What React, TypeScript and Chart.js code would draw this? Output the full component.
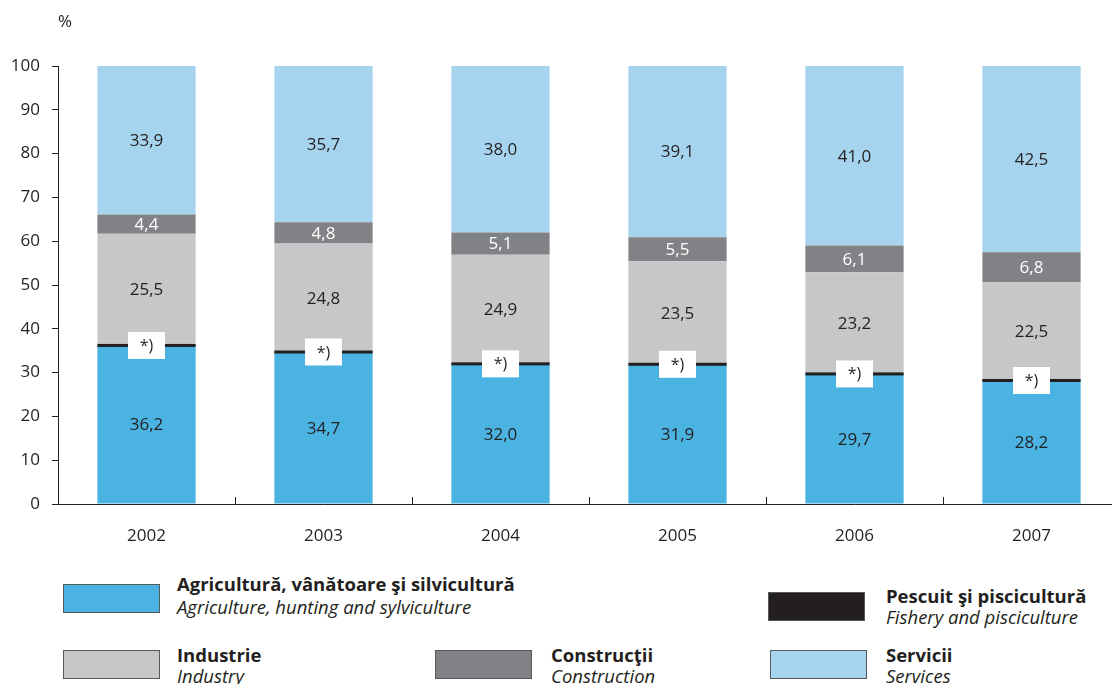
import React, { useEffect, useRef } from "react";
import { Chart, registerables } from "chart.js";

Chart.register(...registerables);

const years = ["2002", "2003", "2004", "2005", "2006", "2007"];
const agriculture = [36.2, 34.7, 32.0, 31.9, 29.7, 28.2];
const industry = [25.5, 24.8, 24.9, 23.5, 23.2, 22.5];
const construction = [4.4, 4.8, 5.1, 5.5, 6.1, 6.8];
const services = [33.9, 35.7, 38.0, 39.1, 41.0, 42.5];
const yTicks = [0, 10, 20, 30, 40, 50, 60, 70, 80, 90, 100];
const fisheryNote = "*)";

const C_AGRI = "#4ab3e2";
const C_IND = "#c6c7c9";
const C_CONS = "#808285";
const C_SERV = "#a6d4ee";
const C_DARK = "#231f20";
const FONT = "'Open Sans', sans-serif";

const fmt = (v: number) => v.toFixed(1).replace(".", ",");

const labelsPlugin = {
  id: "segLabels",
  afterDatasetsDraw(chart: any) {
    const ctx = chart.ctx;
    ctx.save();
    // fishery line centred on the agriculture / industry boundary
    const meta0 = chart.getDatasetMeta(0);
    meta0.data.forEach((el: any) => {
      ctx.fillStyle = C_DARK;
      ctx.fillRect(el.x - el.width / 2, el.y - 1.5, el.width, 3);
    });
    ctx.textAlign = "center";
    ctx.textBaseline = "middle";
    ctx.font = `17px ${FONT}`;
    chart.data.datasets.forEach((ds: any, di: number) => {
      const meta = chart.getDatasetMeta(di);
      meta.data.forEach((el: any, i: number) => {
        const cy = (el.y + el.base) / 2;
        ctx.fillStyle = ds.labelColor;
        ctx.fillText(fmt(ds.data[i]), el.x, cy + 1);
      });
    });
    // fishery note boxes on top of agriculture
    meta0.data.forEach((el: any) => {
      const w = 37, h = 27;
      ctx.fillStyle = "#ffffff";
      ctx.fillRect(el.x - w / 2, el.y - h / 2, w, h);
      ctx.fillStyle = C_DARK;
      ctx.font = `16px ${FONT}`;
      ctx.fillText(fisheryNote, el.x, el.y + 1);
    });
    // % label
    ctx.fillStyle = C_DARK;
    ctx.font = `17px ${FONT}`;
    ctx.textAlign = "center";
    ctx.fillText("%", chart.chartArea.left + 7, 22);
    ctx.restore();
  },
};

function LegendItem(props: { x: number; y: number; tx: number; ty: number; lh: number; color: string; bold: string; italic: string }) {
  return (
    <>
      <div
        style={{
          position: "absolute",
          left: props.x,
          top: props.y,
          width: 97,
          height: 29,
          background: props.color,
          border: "1px solid #58595b",
          boxSizing: "border-box",
        }}
      />
      <div style={{ position: "absolute", left: props.tx, top: props.ty, color: C_DARK, fontFamily: FONT, lineHeight: props.lh + "px", whiteSpace: "nowrap" }}>
        <div style={{ fontWeight: 700, fontSize: 18.5 }}>{props.bold}</div>
        <div style={{ fontStyle: "italic", fontSize: 18.5 }}>{props.italic}</div>
      </div>
    </>
  );
}

export default function App() {
  const ref = useRef<HTMLCanvasElement>(null);
  useEffect(() => {
    document.body.style.margin = "0";
    const chart = new Chart(ref.current!, {
      type: "bar",
      data: {
        labels: years,
        datasets: [
          { label: "Agricultură", data: agriculture, backgroundColor: C_AGRI, labelColor: C_DARK } as any,
          { label: "Industrie", data: industry, backgroundColor: C_IND, labelColor: C_DARK } as any,
          { label: "Construcţii", data: construction, backgroundColor: C_CONS, labelColor: "#ffffff" } as any,
          { label: "Servicii", data: services, backgroundColor: C_SERV, labelColor: C_DARK } as any,
        ],
      },
      options: {
        animation: false,
        responsive: false,
        maintainAspectRatio: false,
        layout: { padding: { top: 66, right: 0, left: 0, bottom: 0 } },
        plugins: { legend: { display: false }, tooltip: { enabled: false } },
        datasets: { bar: { barPercentage: 1, categoryPercentage: 0.555 } },
        scales: {
          x: {
            stacked: true,
            afterFit: (s: any) => { s.height = 56; },
            grid: { display: true, drawOnChartArea: false, tickLength: -7, color: C_DARK, offset: true },
            border: { display: true, color: C_DARK, width: 1 },
            ticks: { color: C_DARK, font: { family: FONT, size: 17 }, padding: 29 },
          },
          y: {
            stacked: true,
            min: 0,
            max: 100,
            afterFit: (s: any) => { s.width = 58; },
            afterBuildTicks: (s: any) => { s.ticks = yTicks.map((v) => ({ value: v })); },
            grid: { display: true, drawOnChartArea: false, tickLength: 6, color: C_DARK },
            border: { display: true, color: C_DARK, width: 1 },
            ticks: { color: C_DARK, font: { family: FONT, size: 17 }, padding: 12 },
          },
        },
      },
      plugins: [labelsPlugin],
    });
    return () => chart.destroy();
  }, []);

  return (
    <div style={{ position: "relative", width: 1112, height: 684, overflow: "hidden", background: "#fff" }}>
      <canvas ref={ref} width={1120} height={560} style={{ position: "absolute", left: 0, top: 0, width: 1120, height: 560 }} />
      <LegendItem x={63} y={584} tx={177} ty={572} lh={23} color={C_AGRI} bold="Agricultură, vânătoare şi silvicultură" italic="Agriculture, hunting and sylviculture" />
      <LegendItem x={768} y={592} tx={886} ty={585} lh={21} color={C_DARK} bold="Pescuit şi piscicultură" italic="Fishery and pisciculture" />
      <LegendItem x={63} y={650} tx={177} ty={644} lh={21} color={C_IND} bold="Industrie" italic="Industry" />
      <LegendItem x={435} y={650} tx={551} ty={644} lh={21} color={C_CONS} bold="Construcţii" italic="Construction" />
      <LegendItem x={770} y={650} tx={886} ty={644} lh={21} color={C_SERV} bold="Servicii" italic="Services" />
    </div>
  );
}
